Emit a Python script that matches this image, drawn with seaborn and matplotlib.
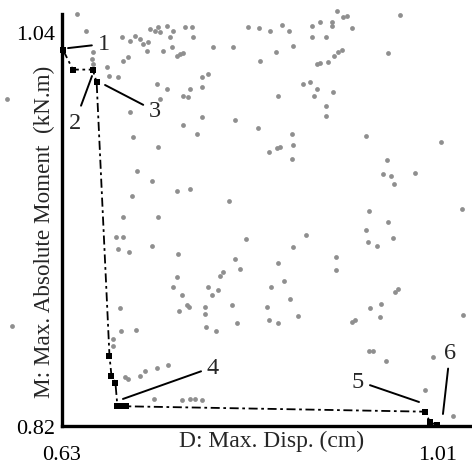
import numpy as np
import pandas as pd
import matplotlib
matplotlib.use("Agg")
import matplotlib.pyplot as plt
import seaborn as sns

# ---- data ---------------------------------------------------------------
# all explored designs (grey dots): D = max displacement (cm), M = max moment (kN.m)
all_d = [0.645, 0.654, 0.691, 0.699, 0.704, 0.709, 0.712, 0.717, 0.719, 0.724,
         0.729, 0.727, 0.736, 0.739, 0.742, 0.716, 0.732, 0.741, 0.746, 0.749,
         0.752, 0.754, 0.761, 0.762, 0.661, 0.660, 0.661, 0.692, 0.697, 0.675,
         0.678, 0.687, 0.726, 0.759, 0.757, 0.752, 0.729, 0.736, 0.699, 0.752,
         0.766, 0.702, 0.727, 0.706, 0.721, 0.746, 0.759, 0.701,
         0.818, 0.829, 0.840, 0.852, 0.859, 0.883, 0.891, 0.903, 0.903, 0.908,
         0.883, 0.897, 0.783, 0.803, 0.846, 0.863, 0.830, 0.888, 0.891, 0.899,
         0.905, 0.909, 0.771, 0.778, 0.771, 0.848, 0.874, 0.881, 0.888, 0.885,
         0.904, 0.897, 0.897, 0.771, 0.805, 0.828, 0.862, 0.863, 0.850, 0.847,
         0.839, 0.862, 0.799,
         0.914, 0.918, 0.923, 0.972, 0.913, 0.959, 0.937, 1.013, 0.958, 0.954,
         0.962, 0.987, 0.966, 0.940, 1.034,
         0.692, 0.727, 0.685, 0.692, 0.687, 0.698, 0.721, 0.747, 0.746, 0.742,
         0.751, 0.756, 0.758, 0.748, 0.689, 0.690, 0.705, 0.682, 0.682, 0.697,
         0.694, 0.709, 0.714, 0.726, 0.737, 0.723, 0.751, 0.759, 0.764,
         0.816, 0.805, 0.810, 0.793, 0.790, 0.778, 0.788, 0.782, 0.775, 0.775,
         0.802, 0.807, 0.776, 0.786, 0.877, 0.863, 0.848, 0.854, 0.841, 0.860,
         0.837, 0.839, 0.848, 0.868, 0.907, 0.907, 0.771,
         0.959, 0.937, 0.965, 0.939, 0.948, 0.970, 0.967, 0.941, 0.952, 0.951,
         0.923, 0.926, 1.035, 0.940, 0.944, 0.957, 1.005, 0.997, 1.025,
         0.574, 0.579]
all_m = [1.0500, 1.0405, 1.0372, 1.0349, 1.0377, 1.0361, 1.0333, 1.0344, 1.0416, 1.0405,
         1.0400, 1.0428, 1.0433, 1.0372, 1.0405, 1.0294, 1.0294, 1.0316, 1.0266, 1.0277,
         1.0282, 1.0428, 1.0428, 1.0372, 1.0288, 1.0249, 1.0221, 1.0238, 1.0260, 1.0204,
         1.0154, 1.0148, 1.0109, 1.0081, 1.0037, 1.0042, 1.0026, 1.0081, 0.9953, 0.9880,
         0.9830, 0.9813, 0.9758, 0.9624, 0.9568, 0.9512, 0.9523, 0.9484,
         1.0428, 1.0422, 1.0405, 1.0439, 1.0405, 1.0433, 1.0456, 1.0456, 1.0433, 1.0517,
         1.0372, 1.0372, 1.0316, 1.0316, 1.0288, 1.0322, 1.0238, 1.0221, 1.0227, 1.0232,
         1.0266, 1.0288, 1.0148, 1.0165, 1.0093, 1.0042, 1.0109, 1.0121, 1.0081, 1.0042,
         1.0065, 0.9987, 0.9931, 0.9925, 0.9908, 0.9864, 0.9830, 0.9769, 0.9758, 0.9752,
         0.9730, 0.9691, 0.9456,
         1.0483, 1.0489, 1.0422, 1.0495, 1.0299, 1.0282, 0.9819, 0.9786, 0.9685, 0.9607,
         0.9596, 0.9612, 0.9551, 0.9400, 0.9412,
         0.9367, 0.9367, 0.9255, 0.9255, 0.9188, 0.9171, 0.9205, 0.9160, 0.9032, 0.8976,
         0.8931, 0.8876, 0.8864, 0.8842, 0.8859, 0.8730, 0.8736, 0.8686, 0.8647, 0.8462,
         0.8474, 0.8479, 0.8507, 0.8524, 0.8541, 0.8351, 0.8345, 0.8351, 0.8351,
         0.9244, 0.9132, 0.9077, 0.9060, 0.9037, 0.8976, 0.8959, 0.8931, 0.8864, 0.8825,
         0.8876, 0.8775, 0.8753, 0.8730, 0.9266, 0.9199, 0.9110, 0.9010, 0.8976, 0.8909,
         0.8864, 0.8792, 0.8775, 0.8814, 0.9144, 0.9071, 0.8345,
         0.9339, 0.9294, 0.9250, 0.9227, 0.9205, 0.8965, 0.8948, 0.8859, 0.8881, 0.8809,
         0.8781, 0.8792, 0.8820, 0.8619, 0.8619, 0.8563, 0.8585, 0.8401, 0.8256,
         1.0026, 0.8758]

# Pareto front (black squares joined by the dash-dot line)
pareto_d = [0.631, 0.641, 0.661, 0.665, 0.678, 0.680, 0.684, 0.686, 0.691, 0.695, 0.997, 1.002, 1.009]
pareto_m = [1.030, 1.019, 1.019, 1.012, 0.859, 0.848, 0.844, 0.831, 0.831, 0.831, 0.828, 0.822, 0.8206]

# numbered Pareto designs: label -> index in the pareto lists
front_labels = ["1", "2", "3", "4", "5", "6"]
front_index = [0, 2, 3, 8, 10, 12]

x_ticks = [0.63, 1.01]
y_ticks = [0.82, 1.04]

# layout of the numbers and their leader lines (text pos, line end) in data units
label_text_pos = [(0.6724, 1.0333), (0.6431, 0.9897), (0.7240, 0.9959),
                  (0.7826, 0.8529), (0.9291, 0.8451), (1.0221, 0.8613)]
label_line_end = [(0.6361, 1.0310), (0.6603, 1.0154), (0.6735, 1.0104),
                  (0.6916, 0.8351), (0.9908, 0.8334), (1.0150, 0.8267)]

# ---- style ---------------------------------------------------------------
sns.set_style("white")
plt.rcParams["font.family"] = ["Liberation Serif", "DejaVu Serif"]

df_all = pd.DataFrame({"D": all_d, "M": all_m})
df_front = pd.DataFrame({"D": pareto_d, "M": pareto_m})

fig = plt.figure(figsize=(4.72, 4.64), dpi=100)
ax = fig.add_axes([62 / 472, 37 / 464, 410 / 472, 427 / 464])

sns.scatterplot(data=df_all, x="D", y="M", ax=ax, color="#8f8f8f", s=12,
                marker="o", linewidth=0, clip_on=False, zorder=2)

ax.plot(df_front["D"], df_front["M"], color="black", lw=1.3,
        linestyle=(0, (5, 2, 1.5, 2)), zorder=3)
sns.scatterplot(data=df_front, x="D", y="M", ax=ax, color="black", s=22,
                marker="s", linewidth=0, clip_on=False, zorder=4)

for lab, tpos, lend in zip(front_labels, label_text_pos, label_line_end):
    ax.annotate(lab, xy=lend, xytext=tpos, textcoords="data",
                fontsize=17.5, ha="center", va="center",
                arrowprops=dict(arrowstyle="-", color="black", lw=1.4,
                                shrinkA=2, shrinkB=0))

ax.set_xlim(0.63, 0.63 + 410 / 989.5)
ax.set_ylim(0.82, 0.82 + 427 / 1791)

for side in ["top", "right"]:
    ax.spines[side].set_visible(False)
for side in ["left", "bottom"]:
    ax.spines[side].set_linewidth(2.4)
    ax.spines[side].set_color("black")
ax.spines["left"].set_bounds(0.82, 1.050)

ax.set_xticks(x_ticks)
ax.set_xticklabels([f"{v:.2f}" for v in x_ticks])
ax.set_yticks(y_ticks)
ax.set_yticklabels([f"{v:.2f}" for v in y_ticks])
ax.tick_params(axis="x", direction="out", length=4, width=1.4, pad=10,
               labelsize=16, colors="black")
ax.tick_params(axis="y", direction="out", length=4, width=1.4, pad=1,
               labelsize=16, colors="black")

ax.set_xlabel("D: Max. Disp. (cm)", fontsize=17)
ax.xaxis.set_label_coords(0.512, -0.008)
ax.set_ylabel("M: Max. Absolute Moment  (kN.m)", fontsize=16.7)
ax.yaxis.set_label_coords(-0.018, 0.457)

fig.savefig("out.png", dpi=100)
